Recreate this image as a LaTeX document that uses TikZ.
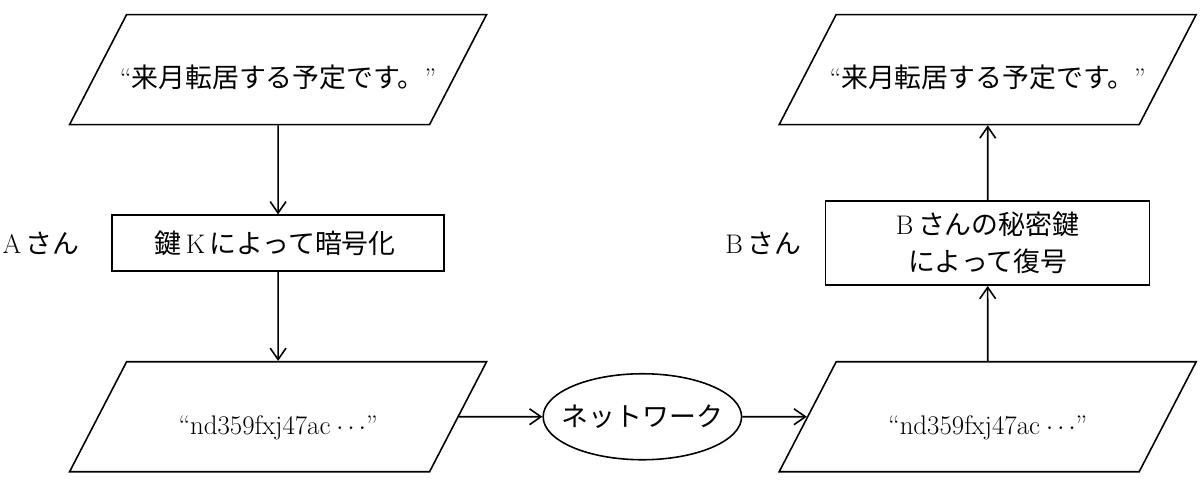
\documentclass[tikz,border=0pt]{standalone}
\usepackage{fontspec}
\newfontfamily\jpfont{Noto Sans CJK JP}
\usepackage{tikz}
\usetikzlibrary{arrows.meta,shapes,positioning,shapes.geometric,matrix}

\begin{document}
\begin{tikzpicture}[
	font=\jpfont\fontsize{15.3pt}{21pt}\selectfont,
	line width=0.9pt,
	>={Straight Barb[length=6.5pt,width=9pt]},
	para/.style={draw, trapezium, trapezium left angle=62.6, trapezium right angle=117.4, trapezium stretches body, minimum width=8.34cm, minimum height=2.2cm, inner xsep=-0.3cm, inner ysep=0.65cm, text height=0.8cm, text depth=0.1cm},
	proc/.style={draw, rectangle, align=center, inner sep=0pt},
	]
	\useasboundingbox (0,0) rectangle (24,-9.64);
		\matrix[%
		matrix of nodes, ampersand replacement=\&,
		anchor=north west, inner sep=0pt,
		row sep=1.5cm, column sep=0.72cm,
		nodes={anchor=center},
		column 2/.style={nodes={ellipse, draw, minimum width=3.94cm, minimum height=1.72cm, inner xsep=-0.21cm, inner ysep=0pt}},
		] (flow) at (1.36,-0.26)
	{
		|[para]|{\textrm{``}来月転居する予定です。\textrm{''}} \&[0.38cm] \& |[para]|{\textrm{``}来月転居する予定です。\textrm{''}}\\
		|[proc, minimum width=6.64cm, minimum height=1.12cm]|{鍵\,\textrm{K}\,によって暗号化} \& \& |[proc, text width=6.48cm, minimum height=1.68cm]|{\textrm{B}\,さんの秘密鍵\\によって復号}\\
		|[para]|{\textrm{``nd359fxj47ac} $\cdots$\textrm{''}} \& ネットワーク \& |[para]|{\textrm{``nd359fxj47ac} $\cdots$\textrm{''}}\\
	};
	\node[left=0.62cm of flow-2-1, inner sep=0pt] (labelA) {\textrm{A}\,さん};
	\node[left=0.46cm of flow-2-3, inner sep=0pt] (labelB) {\textrm{B}\,さん};
	\draw[->] (flow-1-1) -- (flow-2-1);
	\draw[->] (flow-2-1) -- (flow-3-1);
	\draw[->] (flow-3-1) -- (flow-3-2);
	\draw[->] (flow-3-2) -- (flow-3-3);
	\draw[->] (flow-3-3) -- (flow-2-3);
	\draw[->] (flow-2-3) -- (flow-1-3);
\end{tikzpicture}
\end{document}
